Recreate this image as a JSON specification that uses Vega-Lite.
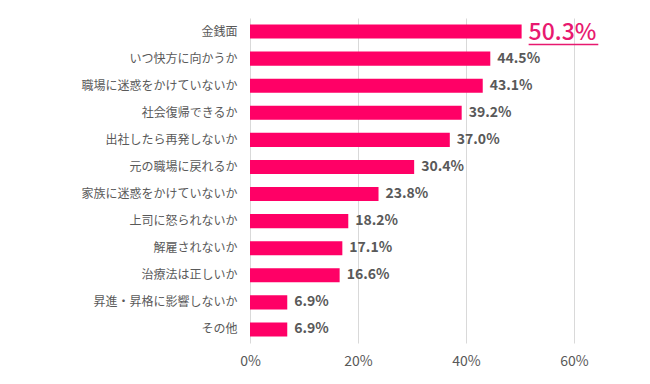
{
  "$schema": "https://vega.github.io/schema/vega-lite/v6.json",
  "width": 324,
  "height": 325,
  "autosize": "none",
  "padding": {"left": 250, "top": 18, "right": 76, "bottom": 41},
  "background": "white",
  "config": {
    "view": {"stroke": null},
    "font": "Noto Sans CJK JP"
  },
  "data": {
    "values": [
      {"item": "金銭面", "value": 50.3, "top": true},
      {"item": "いつ快方に向かうか", "value": 44.5, "top": false},
      {"item": "職場に迷惑をかけていないか", "value": 43.1, "top": false},
      {"item": "社会復帰できるか", "value": 39.2, "top": false},
      {"item": "出社したら再発しないか", "value": 37.0, "top": false},
      {"item": "元の職場に戻れるか", "value": 30.4, "top": false},
      {"item": "家族に迷惑をかけていないか", "value": 23.8, "top": false},
      {"item": "上司に怒られないか", "value": 18.2, "top": false},
      {"item": "解雇されないか", "value": 17.1, "top": false},
      {"item": "治療法は正しいか", "value": 16.6, "top": false},
      {"item": "昇進・昇格に影響しないか", "value": 6.9, "top": false},
      {"item": "その他", "value": 6.9, "top": false}
    ]
  },
  "encoding": {
    "y": {
      "field": "item",
      "type": "nominal",
      "sort": null,
      "scale": {"paddingInner": 0.48, "paddingOuter": 0.24},
      "axis": {
        "title": null,
        "domain": false,
        "ticks": false,
        "labelPadding": 13,
        "labelFontSize": 12,
        "labelColor": "#595959",
        "labelFont": "Noto Sans CJK JP"
      }
    }
  },
  "layer": [
    {
      "mark": {"type": "bar", "color": "#FF0066"},
      "encoding": {
        "x": {
          "field": "value",
          "type": "quantitative",
          "scale": {"domain": [0, 60], "nice": false},
          "axis": {
            "title": null,
            "values": [0, 20, 40, 60],
            "labelExpr": "datum.value + '%'",
            "labelFlush": false,
            "domain": false,
            "ticks": false,
            "grid": true,
            "gridColor": "#d9d9d9",
            "labelFontSize": 14,
            "labelColor": "#595959",
            "labelPadding": 11,
            "labelFont": "Noto Sans CJK JP"
          }
        }
      }
    },
    {
      "transform": [{"filter": "!datum.top"}, {"calculate": "format(datum.value, '.1f') + '%'", "as": "lbl"}],
      "mark": {"type": "text", "align": "left", "dx": 7, "fontSize": 14, "fontWeight": "bold", "color": "#595959", "font": "Noto Sans CJK JP"},
      "encoding": {
        "x": {"field": "value", "type": "quantitative"},
        "text": {"field": "lbl"}
      }
    },
    {
      "transform": [{"filter": "datum.top"}, {"calculate": "format(datum.value, '.1f') + '%'", "as": "lbl"}],
      "mark": {"type": "text", "align": "left", "dx": 7, "dy": 1, "fontSize": 23, "fontWeight": 500, "color": "#E8196F", "font": "Noto Sans CJK JP"},
      "encoding": {
        "x": {"field": "value", "type": "quantitative"},
        "text": {"field": "lbl"}
      }
    },
    {
      "transform": [{"filter": "datum.top"}],
      "mark": {"type": "rule", "color": "#E8196F", "strokeWidth": 1.5, "yOffset": 13},
      "encoding": {
        "x": {"datum": 51.6},
        "x2": {"datum": 64.5}
      }
    }
  ]
}
